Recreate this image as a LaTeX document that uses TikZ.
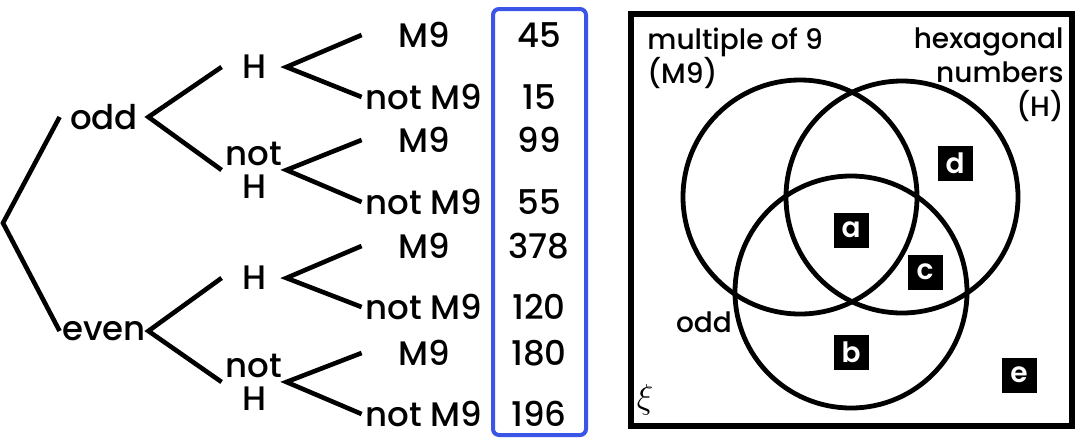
\documentclass[tikz,border=0pt]{standalone}
\usepackage{fontspec}
\setmainfont{Poppins}[UprightFont=* Medium,BoldFont=* SemiBold]
\definecolor{boxblue}{HTML}{3B55E6}
\tikzset{
  branch/.style={line width=2.3pt},
  lvlone/.style={minimum width=44pt,inner sep=0pt},
  lvltwo/.style={minimum width=32pt,inner sep=0pt,align=center,font=\fontsize{17}{16.5}\selectfont},
  leaf/.style={minimum width=62pt,inner sep=0pt},
  num/.style={inner sep=0pt},
  vlabel/.style={inner sep=0pt,font=\fontsize{14}{17}\selectfont},
  ring/.style={line width=2.4pt},
  region/.style={fill=black,text=white,minimum size=17.5pt,inner sep=0pt,font=\fontsize{14}{14}\selectfont\bfseries},
}
\begin{document}
\begin{tikzpicture}[x=0.5pt,y=-0.5pt,font=\fontsize{17}{20}\selectfont]
\useasboundingbox (0,0) rectangle (1080,446);
% tree
\coordinate (root) at (3,223);
\node[lvlone] (odd) at (104,117) {odd};
\node[lvlone] (even) at (104,331) {even};
\draw[branch] (odd.west) -- (root) -- (even.west);
\node[lvltwo] (oddH) at (254,67) {H};
\node[lvltwo] (oddNH) at (254,170) {not\\H};
\node[lvltwo] (evenH) at (254,278) {H};
\node[lvltwo] (evenNH) at (254,382) {not\\H};
\draw[branch] (oddH.west) -- (odd.east) -- (oddNH.west);
\draw[branch] (evenH.west) -- (even.east) -- (evenNH.west);
\node[leaf] (oHM) at (424,35) {M9};
\node[leaf] (oHN) at (424,97) {not M9};
\node[leaf] (oNM) at (424,140) {M9};
\node[leaf] (oNN) at (424,202) {not M9};
\node[leaf] (eHM) at (424,246) {M9};
\node[leaf] (eHN) at (424,307) {not M9};
\node[leaf] (eNM) at (424,353) {M9};
\node[leaf] (eNN) at (424,414) {not M9};
\draw[branch] (oHM.west) -- (oddH.east) -- (oHN.west);
\draw[branch] (oNM.west) -- (oddNH.east) -- (oNN.west);
\draw[branch] (eHM.west) -- (evenH.east) -- (eHN.west);
\draw[branch] (eNM.west) -- (evenNH.east) -- (eNN.west);
% totals
\draw[boxblue,line width=2pt,rounded corners=3pt] (493,9) rectangle (586,435);
\node[num] (n1) at (539,35) {45};
\node[num] (n2) at (539,97) {15};
\node[num] (n3) at (539,140) {99};
\node[num] (n4) at (539,202) {55};
\node[num] (n5) at (539,246) {378};
\node[num] (n6) at (539,307) {120};
\node[num] (n7) at (539,353) {180};
\node[num] (n8) at (539,414) {196};
% venn diagram
\draw[line width=2.6pt] (631,14) rectangle (1072,426);
\draw[ring] (800,197) circle[radius=58.5pt];
\draw[ring] (902,197) circle[radius=58pt];
\draw[ring] (851,292) circle[radius=58pt];
\node[vlabel,anchor=north west,align=left] (mlab) at (647,27) {multiple of 9\\(M9)};
\node[vlabel,anchor=north east,align=right] (hlab) at (1064,27) {hexagonal\\numbers\\(H)};
\node[vlabel] (olab) at (704,322) {odd};
\node (xi) at (645,400) {$\xi$};
\node[region] (ra) at (851,230) {a};
\node[region] (rb) at (851,352) {b};
\node[region] (rc) at (925,272) {c};
\node[region] (rd) at (955,163) {d};
\node[region] (re) at (1019,375) {e};
\end{tikzpicture}
\end{document}
